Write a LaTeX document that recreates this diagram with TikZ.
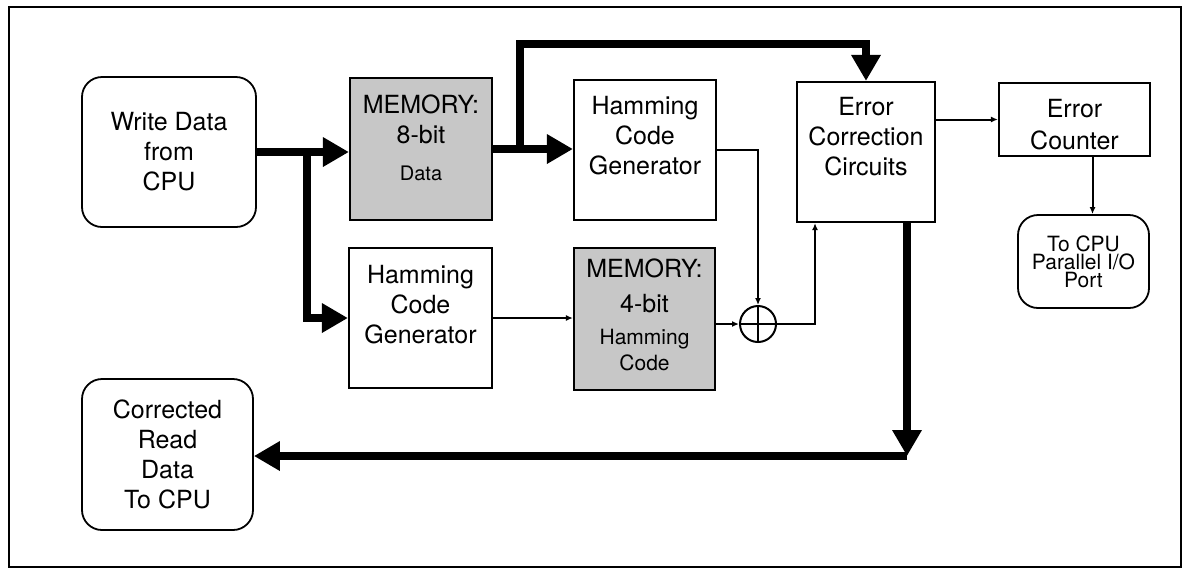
\documentclass[tikz,border=0pt]{standalone}
\usepackage{fontspec}
\setmainfont{TeX Gyre Heros}
\usetikzlibrary{arrows.meta}
\tikzset{
	blk/.style={draw, line width=1.1pt, inner sep=0pt},
	mem/.style={blk, fill=black!22},
	cpu/.style={blk, line width=0.9pt, rounded corners=10pt},
	txt/.style={align=center, inner sep=0pt, font=\fontsize{12.5}{15}\selectfont},
	bus/.style={line width=4pt, -{Triangle[length=13pt,width=14pt]}},
	sig/.style={line width=1pt, -{Latex[length=3.5pt,width=3pt]}},
}
\begin{document}
\begin{tikzpicture}[x=0.5pt,y=-0.5pt]
	\useasboundingbox (0,0) rectangle (1186,570);
	\draw[line width=1pt] (9,7) rectangle (1181,567);

	\node[cpu, minimum width=87pt, minimum height=75pt] (wr) at (169,152) {};
	\node[mem, minimum width=71pt, minimum height=71pt] (mem8) at (421,149) {};
	\node[blk, minimum width=71pt, minimum height=70pt] (hgA) at (645,150) {};
	\node[blk, minimum width=69pt, minimum height=70pt] (ecc) at (866,152) {};
	\node[blk, minimum width=75.5pt, minimum height=36.5pt] (cnt) at (1074.5,119.5) {};
	\node[cpu, minimum width=65.5pt, minimum height=46.5pt] (port) at (1083.5,261.5) {};
	\node[blk, minimum width=71.5pt, minimum height=70pt] (hgB) at (420.5,318) {};
	\node[mem, minimum width=70.5pt, minimum height=71pt] (mem4) at (644.5,319) {};
	\node[blk, line width=1pt, circle, minimum size=18pt] (xor) at (758,324) {};
	\node[cpu, minimum width=85.5pt, minimum height=75.5pt] (corr) at (167.5,454.5) {};
	\draw[line width=1pt] (xor.north) -- (xor.south) (xor.west) -- (xor.east);

	\node[txt] (wrt) at (wr) {Write Data\\from\\CPU};
	\node[txt] (mem8t) at ([yshift=5.5pt]mem8.center) {MEMORY:\\8-bit\\[3.5pt]{\fontsize{10}{12}\selectfont Data}};
	\node[txt] (hgAt) at ([yshift=7pt]hgA.center) {Hamming\\Code\\Generator};
	\node[txt] (ecct) at ([yshift=7.5pt]ecc.center) {Error\\Correction\\Circuits};
	\node[txt] (cntt) at ([yshift=-2.5pt]cnt.center) {Error\\[1pt]Counter};
	\node[txt, font=\fontsize{10.5}{6.5}\selectfont] (portt) at (port) {To CPU\\Parallel I/O\\Port};
	\node[txt] (hgBt) at ([yshift=6.5pt]hgB.center) {Hamming\\Code\\Generator};
	\node[txt] (mem4t) at ([yshift=2pt]mem4.center) {MEMORY:\\[2.5pt]4-bit\\[1pt]{\fontsize{10.5}{12}\selectfont Hamming}\\[-2pt]{\fontsize{10.5}{12}\selectfont Code}};
	\node[txt] (corrt) at (corr) {Corrected\\Read\\Data\\To CPU};

	\coordinate (j1) at (307,152);
	\coordinate (j2) at (520,149);
	\coordinate (tp) at (520,44);
	\coordinate (cnr) at (907,456);
	\draw[bus] (wr.east) -- (wr.east -| mem8.west);
	\draw[bus] (j1) |- (hgB.west);
	\draw[bus] (mem8.east) -- (mem8.east -| hgA.west);
	\draw[bus] (j2) -- (tp) -| (ecc.north);
	\draw[bus] (ecc.south -| cnr) -- (cnr);
	\draw[bus] (cnr) -- (cnr -| corr.east);

	\draw[sig] (hgA.east) -| (xor.north);
	\draw[sig] (hgB.east) -- (hgB.east -| mem4.west);
	\draw[sig] (xor.west -| mem4.east) -- (xor.west);
	\draw[sig] (xor.east) -| ([xshift=-25.5pt]ecc.south);
	\draw[sig] (cnt.west -| ecc.east) -- (cnt.west);
	\draw[sig] ([xshift=9pt]cnt.south) -- ([xshift=9pt]cnt.south |- port.north);
\end{tikzpicture}
\end{document}
